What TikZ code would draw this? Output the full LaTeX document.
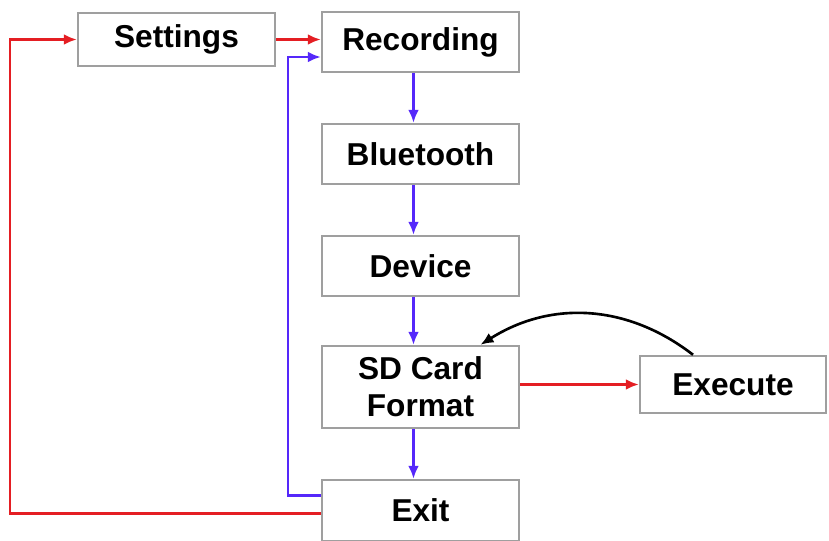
\documentclass[tikz,border=0pt]{standalone}
\usepackage{fontspec}
\setmainfont{Liberation Sans}
\usetikzlibrary{arrows.meta}
\definecolor{menured}{RGB}{228,30,35}
\definecolor{menublue}{RGB}{85,40,250}
\begin{document}
\begin{tikzpicture}[
    menu/.style={draw=gray!75, line width=1.4pt, fill=white, minimum width=#1, align=center, font=\bfseries\fontsize{18}{21}\selectfont, inner sep=2pt},
    menu/.default=3.94cm,
    arrow/.style={->, line width=1.5pt, >={Latex[length=2.6mm,width=2.2mm]}},
    redarrow/.style={arrow, menured},
    bluearrow/.style={arrow, menublue}
]
    \useasboundingbox (0,0) rectangle (16.58,-10.8);

    % Menu column
    \node[menu, minimum height=1.06cm] (settings) at (3.53,-0.79) {Settings};
    \node[menu, minimum height=1.2cm] (recording) at (8.41,-0.84) {Recording};
    \node[menu, minimum height=1.2cm] (bluetooth) at (8.41,-3.08) {Bluetooth};
    \node[menu, minimum height=1.2cm] (device) at (8.41,-5.32) {Device};
    \node[menu, minimum height=1.64cm] (sdcard) at (8.41,-7.74) {SD Card\\Format};
    \node[menu, minimum height=1.22cm] (exit) at (8.41,-10.21) {Exit};

    % Side action
    \node[menu=3.72cm, minimum height=1.14cm] (execute) at (14.66,-7.69) {Execute};

    % Rails for the loops
    \coordinate (redrail) at (0.2,-5);
    \coordinate (bluerail) at (5.76,-5);

    % Downward flow
    \draw[bluearrow] ([xshift=-0.14cm]recording.south) -- ([xshift=-0.14cm]bluetooth.north);
    \draw[bluearrow] ([xshift=-0.14cm]bluetooth.south) -- ([xshift=-0.14cm]device.north);
    \draw[bluearrow] ([xshift=-0.14cm]device.south) -- ([xshift=-0.14cm]sdcard.north);
    \draw[bluearrow] ([xshift=-0.14cm]sdcard.south) -- ([xshift=-0.14cm]exit.north);

    % Settings and execute
    \draw[redarrow] (settings.east) -- (settings.east -| recording.west);
    \draw[redarrow] (sdcard.east |- execute.west) -- (execute.west);
    \draw[arrow, black] ([xshift=-0.8cm]execute.north) to[bend right=35] ([xshift=1.2cm]sdcard.north);

    % Loops back from exit
    \draw[redarrow] ([yshift=-0.06cm]exit.west) -| (redrail) |- (settings.west);
    \draw[bluearrow] ([yshift=0.3cm]exit.west) -| (bluerail) |- ([yshift=-0.3cm]recording.west);

\end{tikzpicture}
\end{document}
